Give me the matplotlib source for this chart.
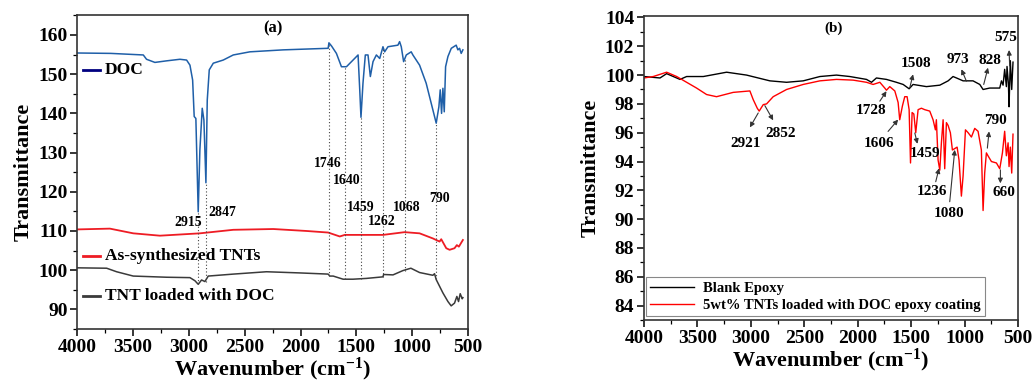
import matplotlib
matplotlib.use("Agg")
import matplotlib.pyplot as plt
from matplotlib.ticker import MultipleLocator

# ---- panel (a): FTIR of DOC, TNTs and TNT loaded with DOC ----
doc_wn = [4000, 3700, 3409, 3380, 3305, 3200, 3081, 3021, 2991, 2967,
          2953, 2938, 2917, 2902, 2881, 2866, 2848, 2836, 2818, 2782,
          2693, 2603, 2454, 2156, 1753, 1746, 1723, 1679, 1634, 1589,
          1530, 1485, 1470, 1459, 1441, 1420, 1396, 1375, 1351, 1321,
          1291, 1262, 1247, 1217, 1128, 1113, 1098, 1077, 1053, 1009,
          994, 934, 875, 815, 785, 761, 749, 737, 725, 713,
          701, 680, 650, 606, 591, 576, 561, 546]
doc_t = [155.4, 155.3, 154.9, 153.8, 153.0, 153.4, 153.8, 153.6, 152.3, 148.5,
         139.2, 138.7, 114.9, 130.7, 141.3, 138.3, 122.3, 143.4, 151.1, 152.8,
         153.6, 154.9, 155.7, 156.2, 156.6, 158.0, 157.2, 155.3, 151.9, 151.9,
         153.6, 154.9, 146.0, 139.0, 147.7, 154.9, 154.9, 149.4, 153.2, 154.9,
         154.0, 157.0, 155.7, 157.0, 157.4, 158.3, 157.0, 153.2, 154.9, 155.7,
         154.9, 152.3, 147.7, 140.9, 137.5, 141.7, 146.0, 140.0, 146.4, 140.4,
         151.9, 154.5, 156.6, 157.4, 156.2, 156.6, 155.3, 156.2]

tnt_wn = [4000, 3708, 3499, 3260, 2902, 2603, 2245, 1947, 1753, 1649,
          1604, 1262, 1068, 934, 815, 755, 740, 695, 665, 621,
          600, 582, 561, 546]
tnt_t = [110.4, 110.6, 109.4, 108.8, 109.4, 110.3, 110.5, 110.0, 109.6, 108.6,
         109.0, 109.0, 109.7, 109.4, 108.1, 107.3, 107.9, 105.6, 105.2, 105.6,
         106.4, 106.0, 107.0, 107.7]

load_wn = [4000, 3737, 3648, 3499, 3200, 2991, 2946, 2917, 2887, 2857,
           2827, 2603, 2305, 2007, 1753, 1738, 1708, 1619, 1530, 1411,
           1262, 1256, 1172, 1083, 1012, 934, 815, 800, 785, 725,
           680, 651, 621, 600, 585, 570, 552, 546]
load_t = [100.6, 100.5, 99.6, 98.5, 98.2, 98.1, 97.3, 96.4, 97.5, 97.1,
          98.5, 99.0, 99.6, 99.3, 99.0, 98.5, 98.5, 97.7, 97.7, 97.9,
          98.3, 98.9, 98.8, 99.9, 100.5, 99.4, 98.7, 99.1, 97.6, 94.2,
          92.0, 90.9, 91.6, 93.3, 92.0, 94.0, 92.7, 93.0]

# dotted marker lines: (position, low, high, label, label x, label y)
a_marks = [
    (2915, 96.4, 114.9, "2915", 3006, 112.1),
    (2847, 97.0, 122.3, "2847", 2702, 114.7),
    (1746, 98.6, 158.0, "1746", 1753, 127.3),
    (1605, 97.7, 151.9, "1640", 1589, 122.8),
    (1459, 97.8, 139.0, "1459", 1457, 116.0),
    (1262, 98.3, 157.0, "1262", 1268, 112.4),
    (1068, 99.8, 154.0, "1068", 1046, 116.0),
    (790, 97.8, 137.5, "790", 753, 118.3),
]

# ---- panel (b): blank epoxy vs coating ----
blank_wn = [4000, 3850, 3788, 3663, 3601, 3445, 3227, 3040, 2822, 2666,
            2510, 2354, 2199, 2074, 1918, 1871, 1825, 1731, 1638, 1575,
            1519, 1482, 1357, 1232, 1154, 1108, 1076, 1014, 921, 858,
            827, 765, 671, 655, 640, 625, 609, 603, 590, 584,
            572, 559, 547]
blank_t = [99.9, 99.8, 100.1, 99.7, 99.9, 99.9, 100.2, 100.0, 99.6, 99.5,
           99.6, 99.9, 100.0, 99.9, 99.7, 99.5, 99.8, 99.7, 99.5, 99.35,
           99.05, 99.35, 99.2, 99.3, 99.6, 99.9, 99.8, 99.6, 99.6, 99.35,
           99.0, 99.1, 99.1, 99.6, 99.3, 100.4, 99.2, 100.6, 99.4, 97.8,
           101.0, 99.0, 100.9]

coat_wn = [4000, 3913, 3788, 3694, 3601, 3508, 3414, 3321, 3165, 3009,
           2978, 2940, 2922, 2884, 2853, 2791, 2666, 2510, 2354, 2199,
           2043, 1918, 1856, 1793, 1747, 1731, 1700, 1653, 1622, 1607,
           1582, 1560, 1538, 1519, 1506, 1491, 1475, 1457, 1435, 1404,
           1373, 1326, 1295, 1273, 1264, 1248, 1232, 1217, 1201, 1186,
           1170, 1154, 1133, 1114, 1092, 1070, 1052, 1030, 1014, 992,
           967, 936, 905, 874, 843, 827, 812, 796, 781, 749,
           702, 671, 646, 625, 609, 593, 584, 572, 559, 547]
coat_t = [99.8, 99.9, 100.2, 99.9, 99.5, 99.1, 98.65, 98.5, 98.8, 98.9,
          98.3, 97.7, 97.5, 97.95, 98.0, 98.5, 99.0, 99.35, 99.6, 99.7,
          99.65, 99.5, 99.35, 99.5, 99.1, 98.95, 99.2, 98.9, 98.1, 96.9,
          97.85, 98.5, 98.5, 97.6, 93.9, 97.4, 97.3, 96.0, 97.6, 97.7,
          97.6, 97.5, 96.9, 96.2, 96.9, 94.1, 93.4, 95.3, 96.9, 93.5,
          96.7, 96.5, 96.0, 94.8, 94.9, 95.0, 94.1, 91.6, 93.0, 96.2,
          96.0, 95.7, 96.3, 96.1, 94.8, 90.6, 93.2, 94.6, 94.4, 94.0,
          93.9, 93.5, 94.6, 96.1, 94.4, 95.3, 93.65, 95.0, 93.2, 95.9]

# arrows: (label, text pos, arrow tail, arrow head)
b_marks = [
    ("2921", (3046, 95.28), (2931, 97.37), (3009, 96.37)),
    ("2852", (2719, 95.98), (2869, 97.88), (2791, 96.86)),
    ("1728", (1878, 97.53), (1793, 98.19), (1731, 98.88)),
    ("1606", (1803, 95.23), (1716, 96.09), (1622, 96.91)),
    ("1459", (1366, 94.53), (1466, 95.98), (1441, 95.23)),
    ("1236", (1301, 91.91), (1270, 92.60), (1239, 93.53)),
    ("1080", (1148, 90.40), (1139, 91.21), (1092, 94.81)),
    ("1508", (1451, 100.79), (1513, 99.12), (1482, 100.05)),
    ("973", (1061, 101.10), (983, 99.58), (1030, 100.40)),
    ("828", (765, 101.02), (821, 99.35), (781, 100.51)),
    ("575", (618, 102.60), (578, 100.63), (584, 101.74)),
    ("790", (709, 96.84), (787, 94.93), (771, 96.09)),
    ("660", (634, 91.84), (665, 93.42), (665, 92.49)),
]

plt.rcParams.update({
    "font.family": "Liberation Serif",
    "font.weight": "bold",
    "axes.labelweight": "bold",
    "mathtext.fontset": "custom",
    "mathtext.rm": "Liberation Serif:bold",
    "mathtext.it": "Liberation Serif:bold",
    "mathtext.bf": "Liberation Serif:bold",
})

XLABEL = r"Wavenumber (cm$^{-1}$)"


def style_axis(ax):
    ax.set_xlim(4000, 500)
    ax.xaxis.set_major_locator(MultipleLocator(500))
    ax.xaxis.set_minor_locator(MultipleLocator(250))
    ax.tick_params(axis="both", which="major", direction="out", length=5,
                   width=1.1, labelsize=14, top=False, right=False, pad=2)
    ax.tick_params(axis="both", which="minor", direction="out", length=3,
                   width=0.9, top=False, right=False)
    for sp in ax.spines.values():
        sp.set_linewidth(1.2)
        sp.set_color("#333333")
    ax.set_xlabel(XLABEL, fontsize=16, labelpad=0)
    ax.set_ylabel("Transmittance", fontsize=16, labelpad=3)


def main():
    fig = plt.figure(figsize=(10.35, 3.85), dpi=100)

    # panel (a)
    ax1 = fig.add_axes([0.0747, 0.1455, 0.3775, 0.8156])
    ax1.plot(doc_wn, doc_t, color="#1f5fa8", lw=1.1)
    ax1.plot(tnt_wn, tnt_t, color="#ee1c24", lw=1.3)
    ax1.plot(load_wn, load_t, color="#3a3a3a", lw=1.1)
    for pos, lo, hi, lab, tx, ty in a_marks:
        ax1.vlines(pos, lo, hi, colors="#444444", linestyles=(0, (1, 2)), lw=0.8)
        ax1.text(tx, ty, lab, fontsize=10, ha="center", va="center")
    ax1.set_ylim(85, 165.1)
    ax1.yaxis.set_major_locator(MultipleLocator(10))
    ax1.yaxis.set_minor_locator(MultipleLocator(5))
    style_axis(ax1)
    ax1.text(2251, 161.7, "(a)", fontsize=12, ha="center", va="center")

    # hand-placed legend labels next to each curve
    for lab, col, yv in [("DOC", "#000080", 151.0),
                         ("As-synthesized TNTs", "#ee1c24", 103.6),
                         ("TNT loaded with DOC", "#3a3a3a", 93.4)]:
        ax1.plot([0.014, 0.058], [yv, yv], color=col, lw=2,
                 transform=ax1.get_yaxis_transform())
        ax1.text(0.071, yv, lab, fontsize=12.5, va="center",
                 transform=ax1.get_yaxis_transform())

    # panel (b)
    ax2 = fig.add_axes([0.6222, 0.1688, 0.3614, 0.7896])
    ax2.plot(blank_wn, blank_t, color="black", lw=1.0, label="Blank Epoxy")
    ax2.plot(coat_wn, coat_t, color="#ff0000", lw=1.0,
             label="5wt% TNTs loaded with DOC epoxy coating")
    for lab, txt, tail, head in b_marks:
        ax2.annotate("", xy=head, xytext=tail,
                     arrowprops=dict(arrowstyle="-|>", color="#333333", lw=0.8,
                                     mutation_scale=7, shrinkA=0, shrinkB=0))
        ax2.text(txt[0], txt[1], lab, fontsize=11, ha="center", va="center")
    ax2.set_ylim(83, 104.1)
    ax2.yaxis.set_major_locator(MultipleLocator(2))
    ax2.yaxis.set_minor_locator(MultipleLocator(1))
    style_axis(ax2)
    ax2.text(2230, 103.23, "(b)", fontsize=11, ha="center", va="center")
    leg = ax2.legend(loc="lower left", bbox_to_anchor=(0.005, 0.013),
                     borderaxespad=0, fontsize=10.5, handlelength=3.0,
                     fancybox=False, framealpha=1, edgecolor="#888888",
                     borderpad=0.3, labelspacing=0.25, handletextpad=0.6)
    leg.get_frame().set_linewidth(0.8)

    fig.savefig("out.png", dpi=100)
    plt.close(fig)


if __name__ == "__main__":
    main()
